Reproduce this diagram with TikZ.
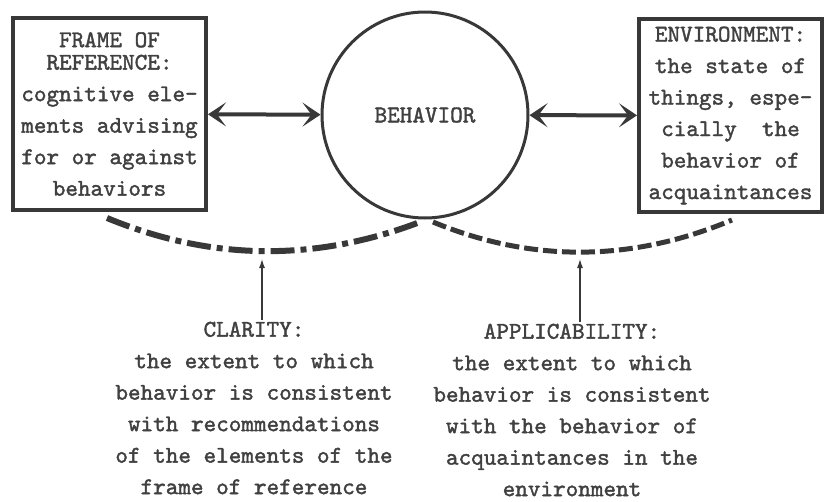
\documentclass[tikz,border=0pt]{standalone}
\usepackage{fontspec}
\setmonofont{lmmono10-regular.otf}[FakeBold=1.6]
\usetikzlibrary{arrows.meta,positioning}
\definecolor{ink}{HTML}{383838}
\tikzset{
    txt/.style={font=\ttfamily\fontsize{24}{31.5}\selectfont, text=black!75},
    box/.style={txt, draw=ink, line width=4pt, align=center, inner sep=0pt},
    link/.style={draw=ink, line width=4pt,
        {Stealth[length=18pt,width=24pt,inset=9pt]}-{Stealth[length=18pt,width=24pt,inset=9pt]}},
    pointer/.style={draw=ink, line width=2pt, -{Latex[length=10pt,width=6pt]}},
    note/.style={txt, align=center, inner sep=2pt},
    clarline/.style={draw=ink, line width=6pt, dash pattern=on 24pt off 6pt on 6pt off 6pt},
    appline/.style={draw=ink, line width=5pt, dash pattern=on 14pt off 5pt}
}
\begin{document}
\begin{tikzpicture}[x=1pt,y=-1pt]
\useasboundingbox (0,0) rectangle (825,501);
\node[box, minimum width=193pt, minimum height=192pt] (frame) at (109.5,114)
    {FRAME OF\\[-9pt]REFERENCE:\\[0pt]cognitive ele-\\ments advising\\for or against\\behaviors};
\node[txt, circle, draw=ink, line width=3pt, minimum size=206pt, inner sep=0pt] (behavior) at (425,115) {BEHAVIOR};
\node[box, minimum width=183pt, minimum height=193pt] (env) at (730.5,115.5)
    {ENVIRONMENT:\\the state of\\things, espe-\\cially\ \ the\\behavior of\\acquaintances};
\draw[link] (frame) -- (behavior);
\draw[link] (behavior) -- (env);

\coordinate (cl0) at (107,218);
\coordinate (cl1) at (420,222);
\coordinate (ap0) at (433,222);
\coordinate (ap1) at (732,220);
\draw[clarline] (cl0) .. controls (211,261) and (315,262) .. (cl1);
\draw[appline] (ap0) .. controls (532,263) and (632,262) .. (ap1);

\node[note] (clarity) at (254,408)
    {CLARITY:\\the extent to which\\behavior is consistent\\with recommendations\\of the elements of the\\frame of reference};
\node[note] (applic) at (572,410)
    {APPLICABILITY:\\the extent to which\\behavior is consistent\\with the behavior of\\acquaintances in the\\environment};
\coordinate (cltip) at (262,258);
\coordinate (aptip) at (580,258);
\draw[pointer] (clarity.north -| cltip) -- (cltip);
\draw[pointer] (applic.north -| aptip) -- (aptip);
\end{tikzpicture}
\end{document}
